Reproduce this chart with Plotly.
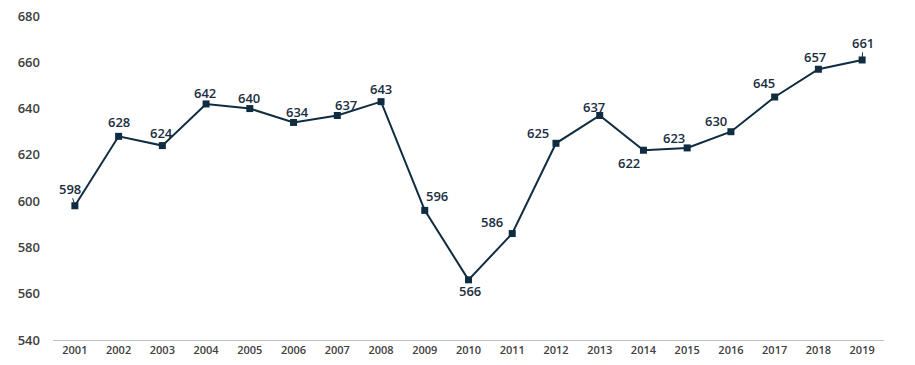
import plotly.graph_objects as go

years = [str(y) for y in range(2001, 2020)]
values = [598, 628, 624, 642, 640, 634, 637, 643, 596, 566, 586, 625, 637, 622, 623, 630, 645, 657, 661]
y_ticks = [540, 560, 580, 600, 620, 640, 660, 680]

# label offsets in pixels (style only)
label_dx = [-5, 0, -1, -1, -1, 4, 9, 0, 12, 1, -20, -18, -6, -14, -13, -15, -11, -3, 1]
label_dy = [-17, -14, -13, -11, -11, -10, -11, -13, -14, 11, -12, -10, -9, 13, -10, -11, -14, -12, -17]
leader = [True] + [False] * 17 + [True]

line_color = "#0f2c40"
label_color = "#1b2e3f"

fig = go.Figure()
fig.add_trace(go.Scatter(
    x=years, y=values,
    mode="lines+markers",
    line=dict(color=line_color, width=2),
    marker=dict(symbol="square", size=7, color=line_color),
    cliponaxis=False,
    hoverinfo="skip",
))

for i, (v, dx, dy, ld) in enumerate(zip(values, label_dx, label_dy, leader)):
    # category axis: numeric x is the category index
    if ld:
        fig.add_annotation(
            x=i, y=v, text=str(v),
            showarrow=True, arrowhead=0, arrowwidth=1, arrowcolor=line_color,
            ax=dx, ay=dy, standoff=3,
            font=dict(family="Open Sans", size=13, color=label_color, weight=600),
            borderpad=0,
        )
    else:
        fig.add_annotation(
            x=i, y=v, text=str(v), showarrow=False,
            xshift=dx, yshift=-dy,
            font=dict(family="Open Sans", size=13, color=label_color, weight=600),
        )

fig.update_layout(
    width=915, height=365,
    margin=dict(l=53, r=31, t=16, b=25),
    paper_bgcolor="white", plot_bgcolor="white",
    showlegend=False,
    font=dict(family="Open Sans"),
    xaxis=dict(
        type="category",
        range=[-0.5, len(years) - 0.5],
        automargin=False,
        showgrid=False,
        showline=True, linecolor="#bfbfbf", linewidth=1,
        ticks="",
        tickfont=dict(family="Open Sans", size=11, color="#404040", weight=600),
        zeroline=False,
    ),
    yaxis=dict(
        range=[540, 680],
        automargin=False,
        tickvals=y_ticks,
        showgrid=False,
        showline=False,
        zeroline=False,
        ticks="",
        ticklabelstandoff=12,
        tickfont=dict(family="Open Sans", size=13, color="#404040", weight=600),
    ),
)

fig.write_html("out.html", config={"displayModeBar": False},
               post_script="document.body.style.margin='0';")
